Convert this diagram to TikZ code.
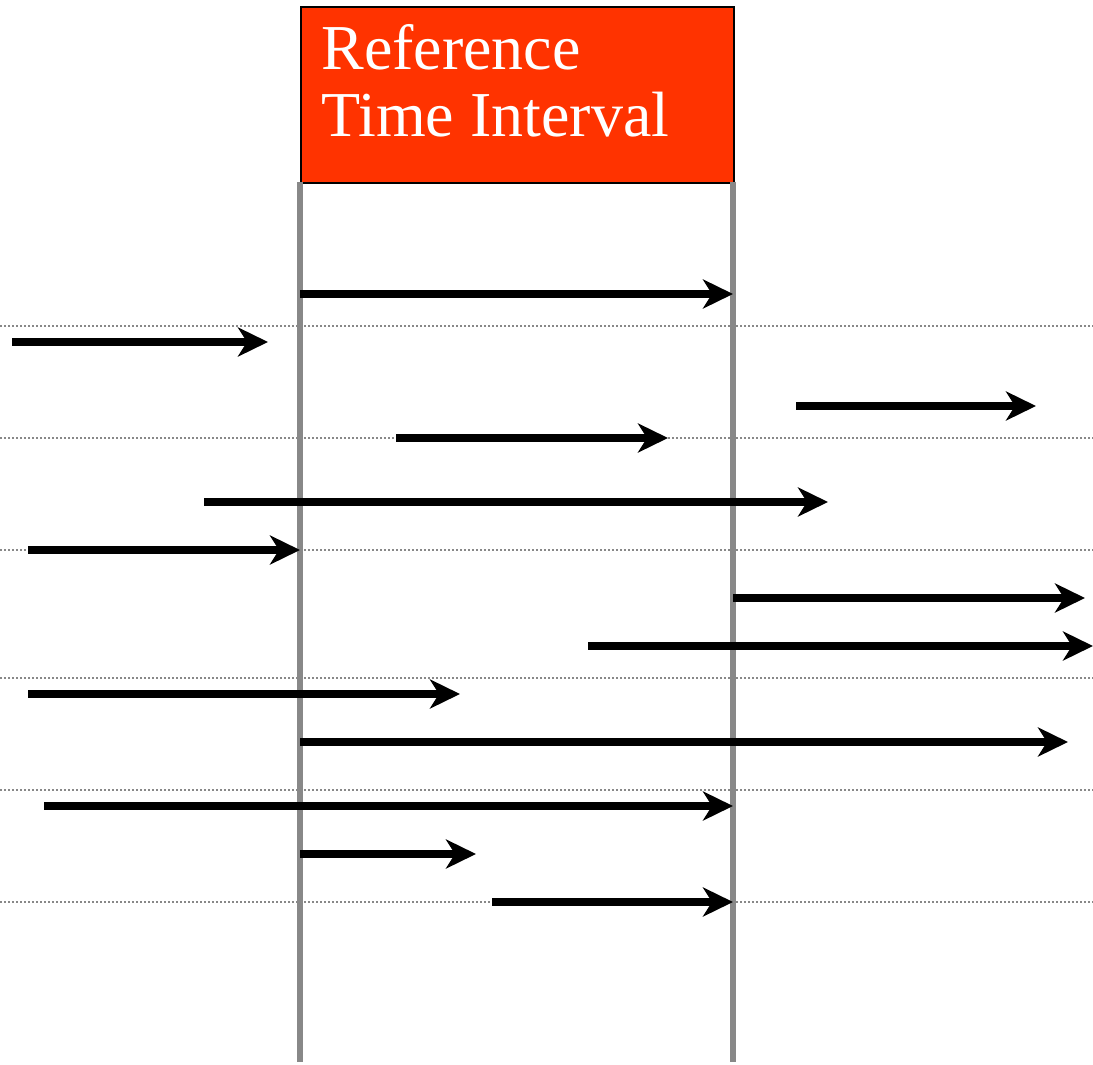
\documentclass[tikz,border=0pt]{standalone}
\usepackage{fontspec}
\setmainfont{Liberation Serif}
\usetikzlibrary{arrows.meta}
\definecolor{boxred}{HTML}{FF3300}
\definecolor{bargray}{HTML}{888888}
\definecolor{dotgray}{HTML}{888888}
\begin{document}
\begin{tikzpicture}[x=0.5pt,y=-0.5pt,
  refbox/.style={draw=black, line width=0.8pt, fill=boxred, anchor=north west, minimum width=216.5pt, minimum height=88pt, inner sep=0pt},
  boxtext/.style={anchor=base west, inner sep=0pt, text=white, font=\fontsize{32}{34}\selectfont},
  bar/.style={draw=bargray, line width=2.8pt},
  dotline/.style={draw=dotgray, line width=1.4pt, dash pattern=on 1.2pt off 0.8pt},
  interval/.style={draw=black, line width=3.6pt, -{Stealth[length=15pt, width=14.5pt, inset=4.5pt]}}]
\useasboundingbox (0,0) rectangle (1093,1065);
% reference box
\node[refbox] (ref) at (300,6) {};
\node[boxtext] (t1) at (321,70) {Reference};
\node[boxtext] (t2) at (321,137) {Time Interval};
% bars
\coordinate (lt) at (300,182); \coordinate (lb) at (300,1062);
\coordinate (rt) at (733,182); \coordinate (rb) at (733,1062);
\draw[bar] (lt) -- (lb);
\draw[bar] (rt) -- (rb);
% dotted separators
\foreach \y [count=\i] in {326,438,550,678,790,902} {
  \coordinate (d\i a) at (0,\y);
  \coordinate (d\i b) at (1093,\y);
  \draw[dotline] (d\i a) -- (d\i b);
}
% intervals
\foreach \y/\xa/\xb [count=\i] in {294/300/733, 342/12/268, 406/796/1036, 438/396/668, 502/204/828, 550/28/300, 598/733/1085, 646/588/1093, 694/28/460, 742/300/1068, 806/44/733, 854/300/476, 902/492/733} {
  \coordinate (s\i) at (\xa,\y);
  \coordinate (e\i) at (\xb,\y);
  \draw[interval] (s\i) -- (e\i);
}
\end{tikzpicture}
\end{document}
